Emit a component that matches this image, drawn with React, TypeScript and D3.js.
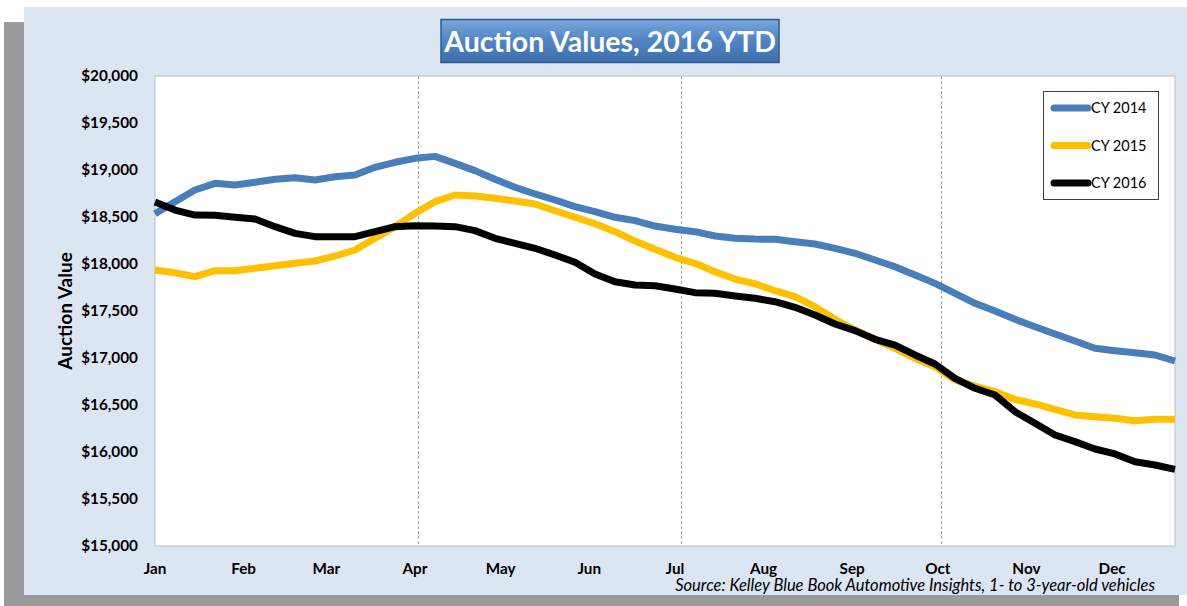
import React from "react";
import * as d3 from "d3";

const W = 1187;
const H = 606;

const title = "Auction Values, 2016 YTD";
const yAxisTitle = "Auction Value";
const sourceNote = "Source: Kelley Blue Book Automotive Insights, 1- to 3-year-old vehicles";

const seriesNames = ["CY 2014", "CY 2015", "CY 2016"];
const seriesColors = ["#4a7ebb", "#ffc000", "#000000"];

// weekly values, week 1 .. week 52
const cy2014 = [
  18535, 18663, 18787, 18858, 18840, 18869, 18901, 18918, 18894, 18929,
  18947, 19029, 19082, 19124, 19145, 19071, 18993, 18901, 18816, 18745,
  18681, 18610, 18557, 18497, 18461, 18404, 18369, 18344, 18298, 18273,
  18265, 18263, 18237, 18213, 18167, 18114, 18043, 17971, 17883, 17794,
  17688, 17582, 17500, 17412, 17333, 17255, 17181, 17103, 17078, 17057,
  17032, 16968,
];
const cy2015 = [
  17936, 17907, 17865, 17929, 17929, 17954, 17982, 18007, 18032, 18085,
  18149, 18273, 18397, 18539, 18663, 18734, 18723, 18699, 18670, 18638,
  18567, 18497, 18429, 18344, 18245, 18156, 18071, 18007, 17918, 17840,
  17790, 17716, 17652, 17546, 17412, 17298, 17199, 17103, 16997, 16908,
  16766, 16700, 16642, 16560, 16511, 16454, 16394, 16376, 16358, 16333,
  16348, 16348,
];
const cy2016 = [
  18660, 18574, 18521, 18518, 18497, 18479, 18397, 18326, 18291, 18291,
  18291, 18344, 18397, 18408, 18404, 18397, 18355, 18273, 18220, 18167,
  18096, 18018, 17894, 17812, 17777, 17769, 17734, 17695, 17688, 17660,
  17635, 17599, 17539, 17457, 17362, 17291, 17199, 17138, 17032, 16936,
  16784, 16678, 16606, 16429, 16305, 16181, 16110, 16032, 15979, 15897,
  15862, 15816,
];

const yTicks = [15000, 15500, 16000, 16500, 17000, 17500, 18000, 18500, 19000, 19500, 20000];
const monthLabels = ["Jan", "Feb", "Mar", "Apr", "May", "Jun", "Jul", "Aug", "Sep", "Oct", "Nov", "Dec"];
const quarterMarkers = ["2016-04-02", "2016-07-03", "2016-10-02"];

const startDate = new Date(2016, 0, 1);
const weekDates = d3.range(52).map((i) => d3.timeDay.offset(startDate, 7 * i));

const FONT = "Lato, 'Open Sans', sans-serif";

export default function App() {
  const plot = { left: 155, right: 1175, top: 76, bottom: 546 };
  const x = d3
    .scaleTime()
    .domain([weekDates[0], weekDates[weekDates.length - 1]])
    .range([plot.left, plot.right]);
  const y = d3.scaleLinear().domain([15000, 20000]).range([plot.bottom, plot.top]);
  const line = d3
    .line<number>()
    .x((_, i) => x(weekDates[i]))
    .y((d) => y(d));
  const allSeries = [cy2014, cy2015, cy2016];
  const fmt = d3.format("$,");

  return (
    <svg
      width={W}
      height={H}
      style={{ position: "fixed", left: 0, top: 0, background: "#ffffff" }}
      fontFamily={FONT}
    >
      <defs>
        <linearGradient id="titleGrad" x1="0" y1="0" x2="0" y2="1">
          <stop offset="0%" stopColor="#7aa6dc" />
          <stop offset="45%" stopColor="#5287c6" />
          <stop offset="100%" stopColor="#3d6eab" />
        </linearGradient>
      </defs>
      {/* shadow and panel */}
      <rect x={4} y={22} width={1175} height={600} fill="#9a9a9a" />
      <rect x={24} y={7} width={1180} height={588} fill="#dce6f2" />
      {/* plot area */}
      <rect
        x={plot.left}
        y={plot.top}
        width={plot.right - plot.left}
        height={plot.bottom - plot.top}
        fill="#ffffff"
        stroke="#bfbfbf"
        strokeWidth={1}
      />
      {/* quarter dashed lines */}
      {quarterMarkers.map((d) => {
        const xx = Math.round(x(new Date(d + "T00:00:00"))) + 0.5;
        return (
          <line
            key={d}
            x1={xx}
            x2={xx}
            y1={plot.top}
            y2={plot.bottom}
            stroke="#a6a6a6"
            strokeWidth={1}
            strokeDasharray="3,2"
          />
        );
      })}
      {/* series */}
      {allSeries.map((s, k) => (
        <path
          key={k}
          d={line(s) || ""}
          fill="none"
          stroke={seriesColors[k]}
          strokeWidth={7}
          strokeLinejoin="round"
        />
      ))}
      {/* y ticks */}
      {yTicks.map((t) => (
        <text
          key={t}
          x={138}
          y={y(t) + 5}
          textAnchor="end"
          fontSize={15.3}
          fontWeight="bold"
          fill="#000"
        >
          {fmt(t)}
        </text>
      ))}
      <text
        transform={`translate(72,${(plot.top + plot.bottom) / 2}) rotate(-90)`}
        textAnchor="middle"
        fontSize={19}
        fontWeight="bold"
        fill="#000"
      >
        {yAxisTitle}
      </text>
      {/* month labels */}
      {monthLabels.map((m, i) => (
        <text
          key={m}
          x={x(new Date(2016, i, 1))}
          y={574}
          textAnchor="middle"
          fontSize={15.3}
          fontWeight="bold"
          fill="#000"
        >
          {m}
        </text>
      ))}
      <text x={1155} y={591} textAnchor="end" fontSize={16.5} fontStyle="italic" fill="#000">
        {sourceNote}
      </text>
      {/* title */}
      <rect x={441} y={19.5} width={338} height={43} fill="url(#titleGrad)" stroke="#2f5b8e" strokeWidth={1.5} />
      <text x={610} y={52} textAnchor="middle" fontSize={28.5} fontWeight="bold" fill="#ffffff">
        {title}
      </text>
      {/* legend */}
      <rect x={1043.5} y={91.5} width={115} height={108} fill="#ffffff" stroke="#404040" strokeWidth={1} />
      {seriesNames.map((n, k) => {
        const ly = 108 + k * 37.5;
        return (
          <g key={n}>
            <line x1={1054} x2={1088} y1={ly} y2={ly} stroke={seriesColors[k]} strokeWidth={7} strokeLinecap="round" />
            <text x={1091} y={ly + 5} fontSize={14.5} fill="#000">
              {n}
            </text>
          </g>
        );
      })}
    </svg>
  );
}
